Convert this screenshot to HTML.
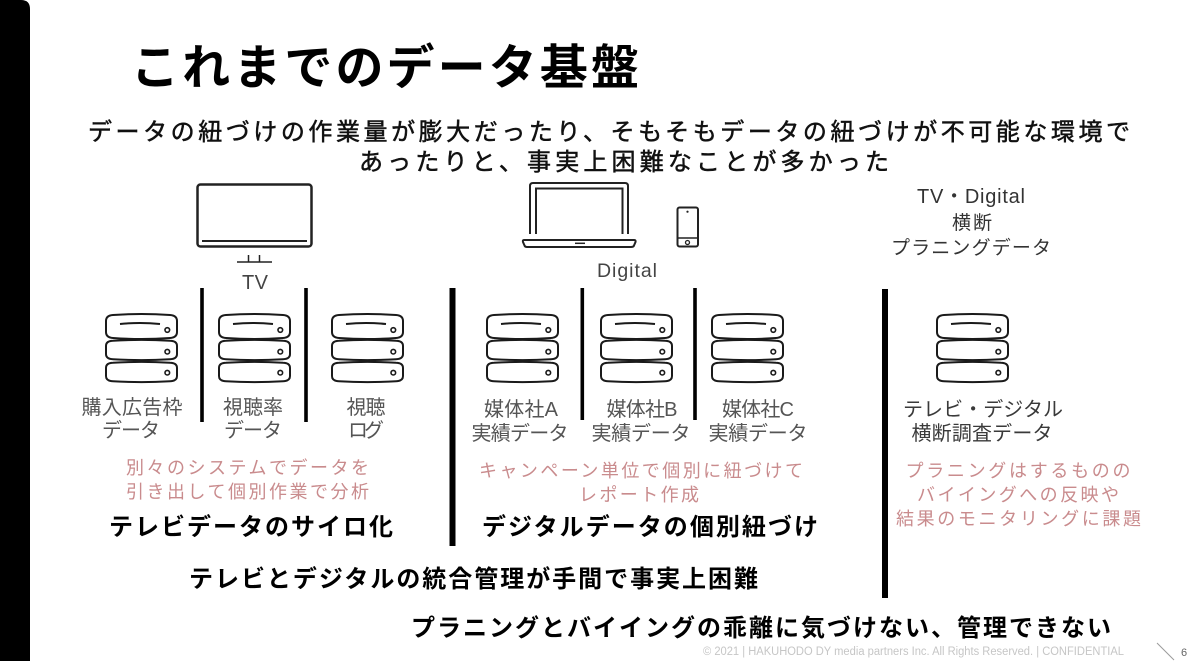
<!DOCTYPE html>
<html><head><meta charset="utf-8">
<style>
html,body{margin:0;padding:0;background:#fff;}
svg{display:block}
text{font-family:"Liberation Sans","Noto Sans CJK JP",sans-serif;}
.t{font-size:48px;font-weight:bold;fill:#000}
.s{font-size:24px;fill:#111;stroke:#111;stroke-width:0.5px}
.b{font-size:24px;font-weight:bold;fill:#000}
.g{font-size:20px;fill:#555}
.p{font-size:18px;fill:#c98b8d}
.h{font-size:19px;fill:#333}
.f{font-size:11.5px;fill:#c6c6c6}
</style></head><body>
<svg width="1200" height="661" viewBox="0 0 1200 661" xmlns="http://www.w3.org/2000/svg">
<rect width="1200" height="661" fill="#fff"/>
<path d="M0,0 H21 Q30,0 30,9 V661 H0 Z" fill="#000"/>

<defs>
<g id="db" fill="#fff" stroke="#1a1a1a" stroke-width="2">
<path d="M0,7 Q0,1.5 7,1 Q35.5,-1 64,1 Q71,1.5 71,7 V18 Q71,23.5 64,24 Q35.5,26 7,24 Q0,23.5 0,18 Z"/>
<path d="M0,32 Q0,27 7,26.8 Q35.5,25 64,26.8 Q71,27 71,32 V40 Q71,45 64,45.2 Q35.5,47 7,45.2 Q0,45 0,40 Z"/>
<path d="M0,54 Q0,49 7,48.8 Q35.5,47 64,48.8 Q71,49 71,54 V62 Q71,67 64,67.2 Q35.5,69 7,67.2 Q0,67 0,62 Z"/>
<path d="M14,10 Q34,8 54,10" fill="none"/>
<circle cx="61.3" cy="16" r="2.3" stroke-width="1.6"/>
<circle cx="61.3" cy="37.7" r="2.3" stroke-width="1.6"/>
<circle cx="61.3" cy="58.7" r="2.3" stroke-width="1.6"/>
</g>
</defs>

<!-- Title -->
<text class="t" x="385" y="84" text-anchor="middle" textLength="508">これまでのデータ基盤</text>
<text class="s" x="609" y="140" text-anchor="middle" textLength="1042">データの紐づけの作業量が膨大だったり、そもそもデータの紐づけが不可能な環境で</text>
<text class="s" x="624" y="170" text-anchor="middle" textLength="530">あったりと、事実上困難なことが多かった</text>

<!-- TV icon -->
<g fill="none" stroke="#222">
<rect x="197.5" y="184.5" width="114" height="62" rx="3" stroke-width="2.5"/>
<line x1="202" y1="241" x2="307" y2="241" stroke-width="2"/>
<path d="M248.5,255 V262 M259.5,255 V262 M237,262 H272" stroke-width="1.5"/>
</g>
<text x="255" y="289" text-anchor="middle" textLength="26" style="font-size:20px;fill:#444">TV</text>

<!-- Laptop & phone -->
<g fill="none" stroke="#222" stroke-width="2">
<path d="M530,234 V186 Q530,183 533,183 H625 Q628,183 628,186 V234"/>
<path d="M536,234 V188.5 H622.5 V234"/>
<path d="M524,240 H634 Q636,240 635.5,242 L634,245.5 Q633.5,247 631,247 H527 Q525,247 524.5,245.5 L523,242 Q522.5,240 524,240 Z"/>
<line x1="575" y1="243.3" x2="585" y2="243.3" stroke-width="1.5"/>
<rect x="677.5" y="207.5" width="20.5" height="39" rx="2"/>
<line x1="678" y1="238" x2="697" y2="238" stroke-width="1.5"/>
<circle cx="687.5" cy="242.5" r="2" stroke-width="1.3"/>
</g>
<circle cx="687.5" cy="211.7" r="1.1" fill="#222"/>
<text x="627" y="277" text-anchor="middle" textLength="60" style="font-size:19.5px;fill:#444">Digital</text>

<!-- Right heading -->
<text class="h" x="971" y="203" text-anchor="middle" textLength="108" style="font-size:20px">TV・Digital</text>
<text class="h" x="972" y="229" text-anchor="middle" textLength="40">横断</text>
<text class="h" x="971" y="254" text-anchor="middle" textLength="160">プラニングデータ</text>

<!-- Vertical lines -->
<g fill="#000">
<rect x="200.2" y="288" width="3.6" height="134"/>
<rect x="304.2" y="288" width="3.6" height="134"/>
<rect x="449.5" y="288" width="6" height="258"/>
<rect x="580.5" y="288" width="3.6" height="132"/>
<rect x="693.2" y="288" width="3.6" height="132"/>
<rect x="882" y="289" width="6" height="309"/>
</g>

<!-- Databases -->
<use href="#db" x="106" y="314"/>
<use href="#db" x="219" y="314"/>
<use href="#db" x="332" y="314"/>
<use href="#db" x="487" y="314"/>
<use href="#db" x="601" y="314"/>
<use href="#db" x="712" y="314"/>
<use href="#db" x="937" y="314"/>

<!-- Gray labels -->
<text class="g" x="132" y="414" text-anchor="middle" textLength="101">購入広告枠</text>
<text class="g" x="131" y="437" text-anchor="middle" textLength="58">データ</text>
<text class="g" x="253" y="414" text-anchor="middle" textLength="60">視聴率</text>
<text class="g" x="253" y="437" text-anchor="middle" textLength="58">データ</text>
<text class="g" x="366" y="414" text-anchor="middle" textLength="39">視聴</text>
<text class="g" x="366" y="437" text-anchor="middle" textLength="36">ログ</text>

<text class="g" x="521" y="416" text-anchor="middle" textLength="74">媒体社A</text>
<text class="g" x="520" y="440" text-anchor="middle" textLength="97">実績データ</text>
<text class="g" x="642" y="416" text-anchor="middle" textLength="71">媒体社B</text>
<text class="g" x="641" y="440" text-anchor="middle" textLength="99">実績データ</text>
<text class="g" x="758" y="416" text-anchor="middle" textLength="72">媒体社C</text>
<text class="g" x="758" y="440" text-anchor="middle" textLength="99">実績データ</text>

<text class="g" x="983" y="416" text-anchor="middle" textLength="160" style="fill:#3a3a3a">テレビ・デジタル</text>
<text class="g" x="982" y="440" text-anchor="middle" textLength="141" style="fill:#3a3a3a">横断調査データ</text>

<!-- Pink notes -->
<text class="p" x="247.5" y="474" text-anchor="middle" textLength="243">別々のシステムでデータを</text>
<text class="p" x="247.5" y="498" text-anchor="middle" textLength="243">引き出して個別作業で分析</text>
<text class="p" x="641" y="477" text-anchor="middle" textLength="324">キャンペーン単位で個別に紐づけて</text>
<text class="p" x="639" y="501" text-anchor="middle" textLength="120">レポート作成</text>
<text class="p" x="1018" y="477" text-anchor="middle" textLength="225">プラニングはするものの</text>
<text class="p" x="1018" y="501" text-anchor="middle" textLength="202">バイイングへの反映や</text>
<text class="p" x="1018.5" y="525" text-anchor="middle" textLength="245">結果のモニタリングに課題</text>

<!-- Bold statements -->
<text class="b" x="251" y="535" text-anchor="middle" textLength="284">テレビデータのサイロ化</text>
<text class="b" x="650" y="535" text-anchor="middle" textLength="336">デジタルデータの個別紐づけ</text>
<text class="b" x="473.5" y="587" text-anchor="middle" textLength="569">テレビとデジタルの統合管理が手間で事実上困難</text>
<text class="b" x="761" y="636" text-anchor="middle" textLength="700">プラニングとバイイングの乖離に気づけない、管理できない</text>

<!-- Footer -->
<text class="f" x="703" y="655" textLength="421" lengthAdjust="spacingAndGlyphs">© 2021 | HAKUHODO DY media partners Inc. All Rights Reserved. | CONFIDENTIAL</text>
<line x1="1157" y1="643" x2="1174" y2="660" stroke="#9a9a9a" stroke-width="1"/>
<text x="1181" y="656" style="font-size:11px;fill:#666">6</text>
</svg>
</body></html>
